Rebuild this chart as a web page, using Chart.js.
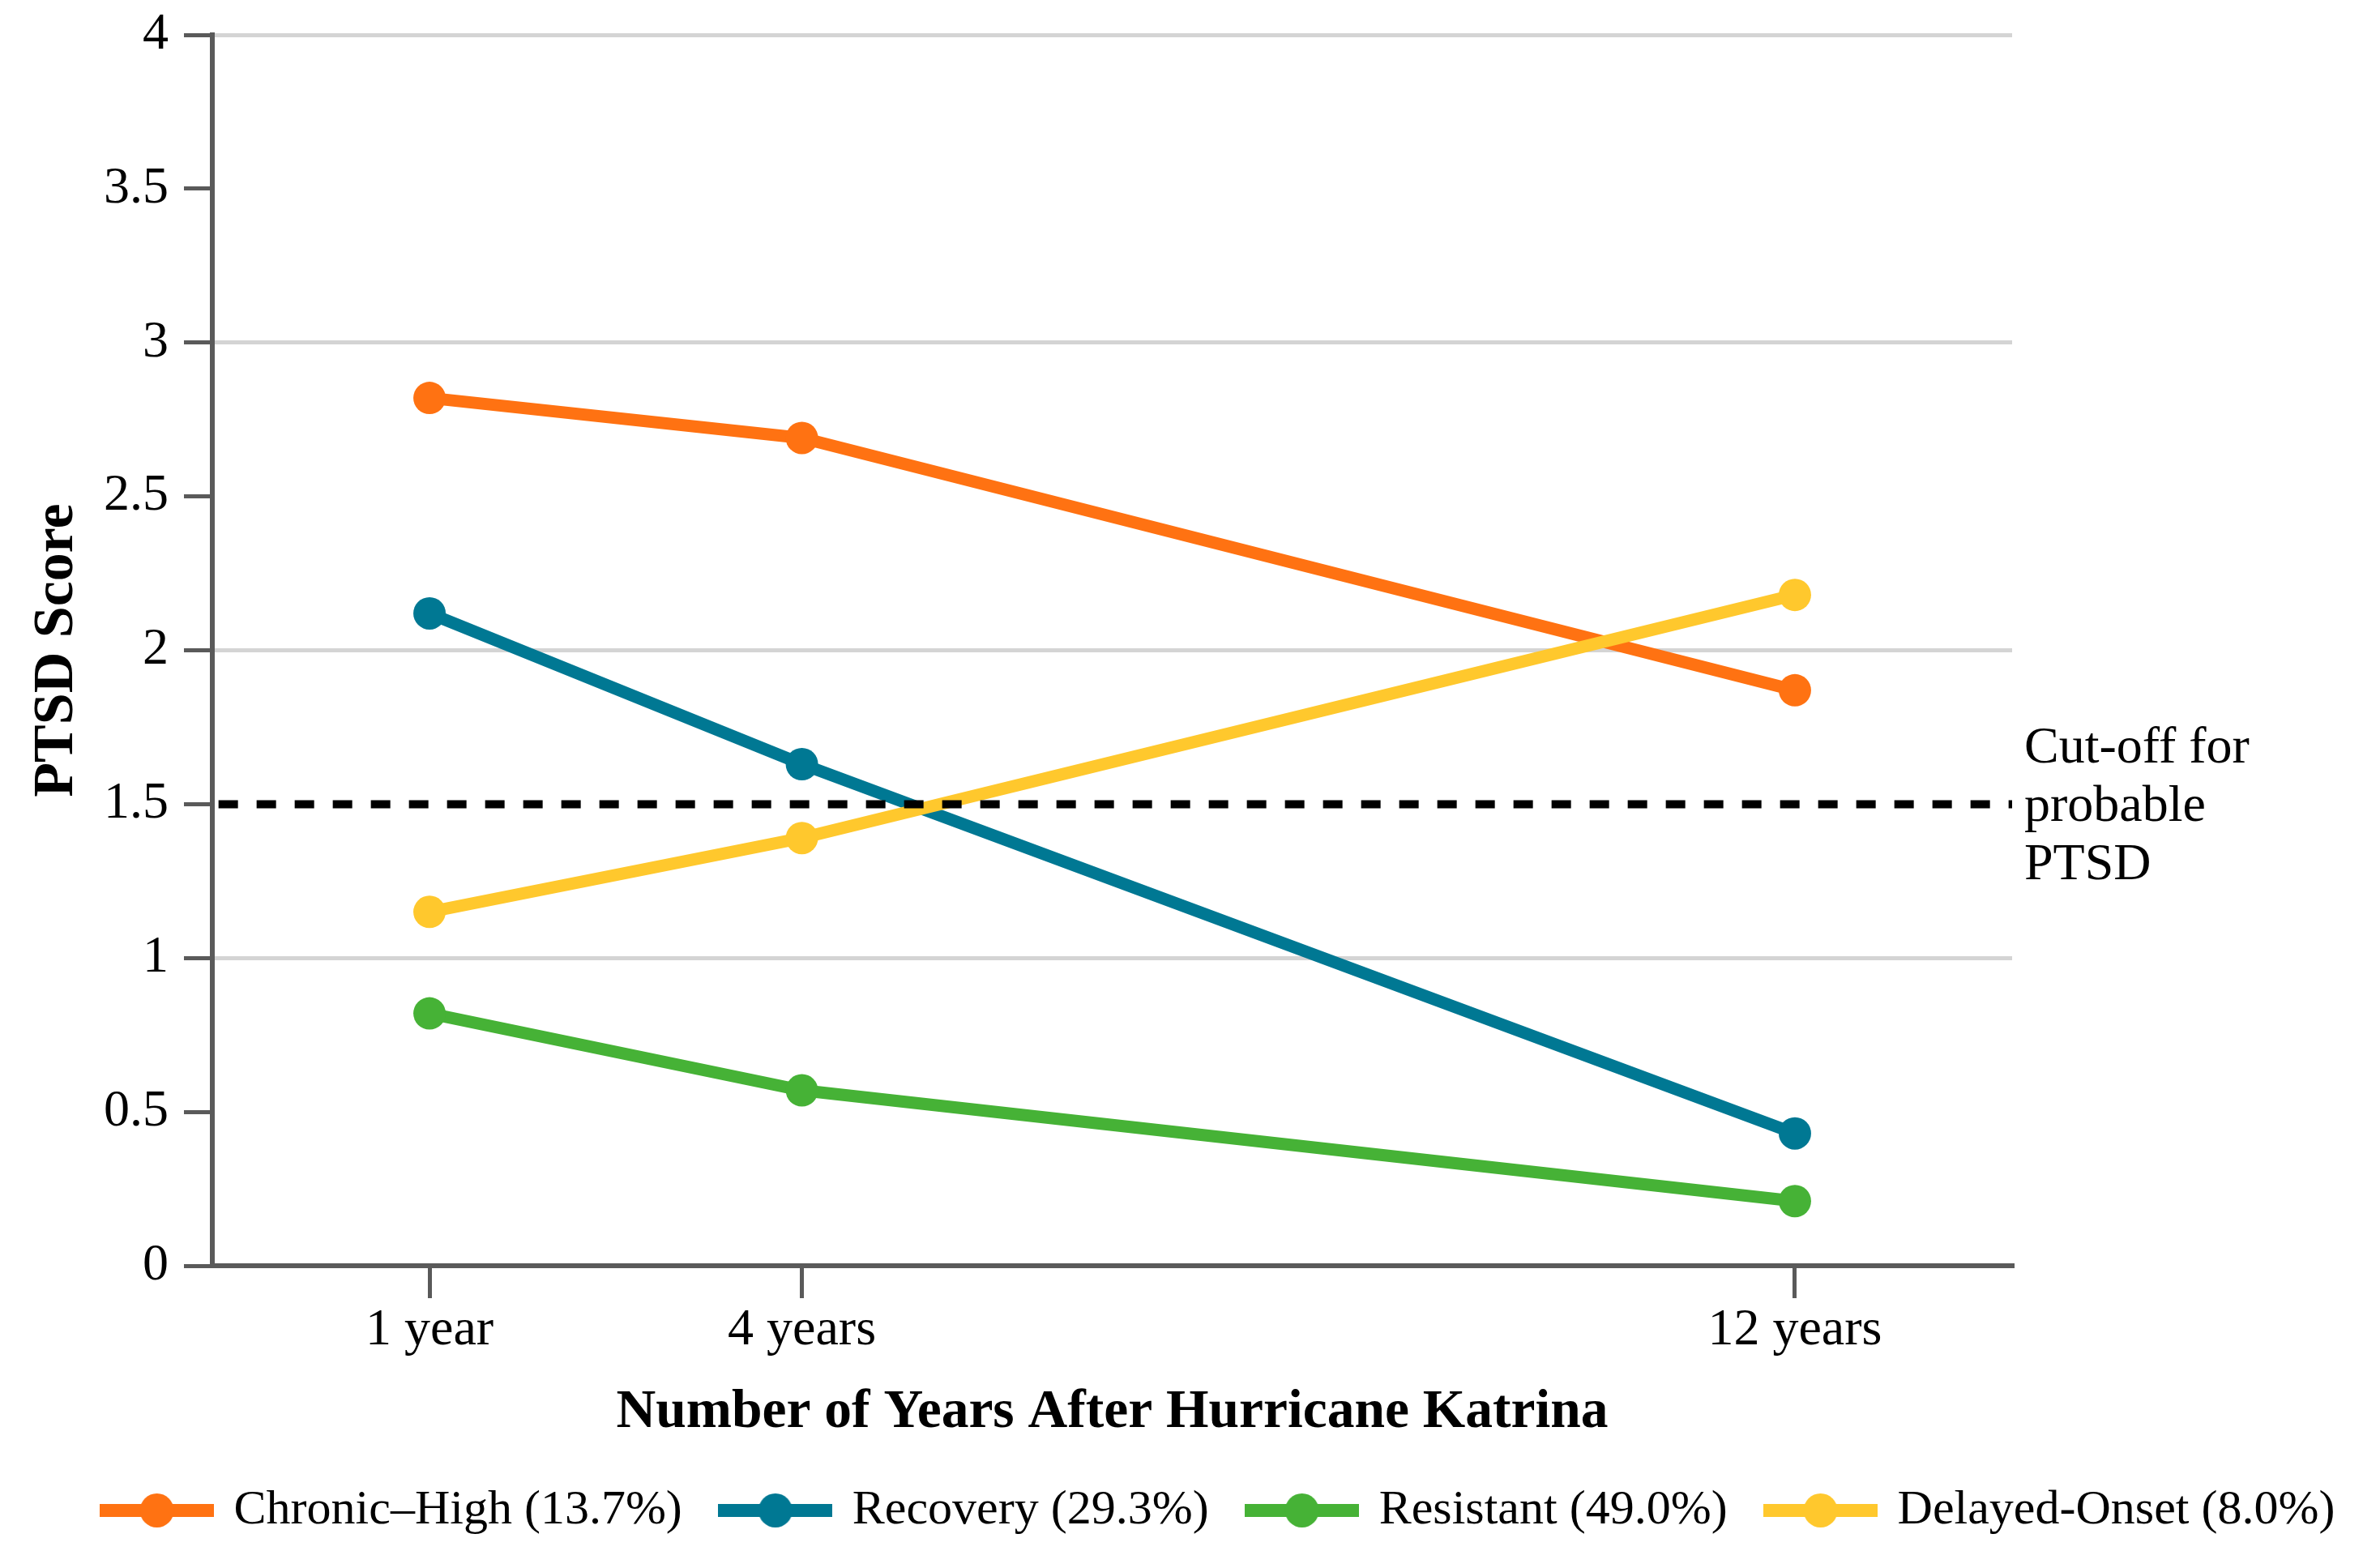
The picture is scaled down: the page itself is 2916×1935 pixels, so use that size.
<!DOCTYPE html>
<html>
<head>
<meta charset="utf-8">
<script src="https://cdn.jsdelivr.net/npm/chart.js@4.4.1/dist/chart.umd.min.js"></script>
<style>
    html, body { margin: 0; padding: 0; background: #FFFFFF; }
    #wrap { width: 2916px; height: 1935px; position: relative; }
</style>
</head>
<body>
<div id="wrap"><canvas id="ptsdChart"></canvas></div>
<script>
// Data
const years = [1, 4, 12];
const yearLabels = ['1 year', '4 years', '12 years'];

const chronicHigh = [2.82, 2.69, 1.87];
const recovery = [2.12, 1.63, 0.43];
const resistant = [0.82, 0.57, 0.21];
const delayedOnset = [1.15, 1.39, 2.18];

const seriesNames = ['Chronic\u2013High (13.7%)', 'Recovery (29.3%)', 'Resistant (49.0%)', 'Delayed-Onset (8.0%)'];
const seriesColors = ['#FF7212', '#007893', '#46B236', '#FFC82D'];

const cutoffValue = 1.5;
const cutoffSpan = [-0.7, 13.75];
const cutoffText = ['Cut-off for', 'probable', 'PTSD'];

const yTicks = [0, 0.5, 1, 1.5, 2, 2.5, 3, 3.5, 4];
const yTickLabels = ['0', '0.5', '1', '1.5', '2', '2.5', '3', '3.5', '4'];

const SERIF = "'Liberation Serif', 'DejaVu Serif', serif";
const AXIS_COLOR = '#5A5A5A';
const GRID_COLOR = '#D4D4D4';

function toPoints(values) {
    return values.map((v, i) => ({ x: years[i], y: v }));
}

// legend marker: thick line with a dot in the middle
function legendMarker(color) {
    const c = document.createElement('canvas');
    c.width = 141;
    c.height = 44;
    const g = c.getContext('2d');
    g.fillStyle = color;
    g.fillRect(0, 22 - 8, 141, 16);
    g.beginPath();
    g.arc(70.5, 22, 21, 0, Math.PI * 2);
    g.fill();
    return c;
}

// text next to the dashed cut-off line
const cutoffLabelPlugin = {
    id: 'cutoffLabel',
    afterLayout(chart) {
        // legend in the original sits a little right of centre
        if (chart.legend) {
            chart.legend.left += 47;
            chart.legend.right += 47;
        }
    },
    afterDraw(chart) {
        const { ctx, chartArea } = chart;
        const y = chart.scales.y.getPixelForValue(cutoffValue);
        ctx.save();
        ctx.font = `64px ${SERIF}`;
        ctx.fillStyle = '#000000';
        ctx.textAlign = 'left';
        ctx.textBaseline = 'middle';
        cutoffText.forEach((line, i) => {
            ctx.fillText(line, chartArea.right + 15, y + 4 + (i - 1) * 72);
        });
        ctx.restore();
    }
};

const seriesData = [chronicHigh, recovery, resistant, delayedOnset];

const datasets = seriesData.map((values, i) => ({
    label: seriesNames[i],
    data: toPoints(values),
    borderColor: seriesColors[i],
    backgroundColor: seriesColors[i],
    borderWidth: 15,
    pointRadius: 20,
    pointHoverRadius: 20,
    pointBorderWidth: 0,
    pointBackgroundColor: seriesColors[i],
    order: 4 - i
}));

datasets.push({
    label: 'cutoff',
    data: cutoffSpan.map(x => ({ x: x, y: cutoffValue })),
    borderColor: '#000000',
    borderWidth: 10,
    borderDash: [24, 23],
    pointRadius: 0,
    order: 0
});

const ctx = document.getElementById('ptsdChart').getContext('2d');
const ptsdChart = new Chart(ctx, {
    type: 'line',
    data: { datasets: datasets },
    plugins: [cutoffLabelPlugin],
    options: {
        responsive: true,
        maintainAspectRatio: false,
        animation: false,
        layout: { padding: { top: 43, bottom: 31, left: 0, right: 0 } },
        plugins: {
            tooltip: { enabled: false },
            legend: {
                position: 'bottom',
                labels: {
                    font: { family: SERIF, size: 60 },
                    color: '#000000',
                    usePointStyle: true,
                    pointStyleWidth: 130,
                    padding: 50,
                    filter: item => item.text !== 'cutoff',
                    generateLabels(chart) {
                        const items = Chart.defaults.plugins.legend.labels.generateLabels(chart);
                        items.sort((a, b) => a.datasetIndex - b.datasetIndex);
                        return items.map(item => {
                            if (item.datasetIndex < seriesColors.length) {
                                item.pointStyle = legendMarker(seriesColors[item.datasetIndex]);
                            }
                            return item;
                        });
                    }
                }
            }
        },
        scales: {
            x: {
                type: 'linear',
                min: -0.75,
                max: 13.75,
                afterBuildTicks: scale => { scale.ticks = years.map(v => ({ value: v })); },
                afterFit: scale => { scale.height = 222; },
                border: { display: true, color: AXIS_COLOR, width: 6 },
                grid: {
                    drawOnChartArea: false,
                    drawTicks: true,
                    tickLength: 40,
                    tickColor: AXIS_COLOR,
                    lineWidth: 5
                },
                ticks: {
                    autoSkip: false,
                    maxRotation: 0,
                    padding: 2,
                    color: '#000000',
                    font: { family: SERIF, size: 64 },
                    callback: value => yearLabels[years.indexOf(value)]
                },
                title: {
                    display: true,
                    text: 'Number of Years After Hurricane Katrina',
                    color: '#000000',
                    font: { family: SERIF, size: 67.5, weight: 'bold' },
                    padding: { top: 0, bottom: 0 }
                }
            },
            y: {
                type: 'linear',
                position: 'left',
                min: 0,
                max: 4,
                afterBuildTicks: scale => { scale.ticks = yTicks.map(v => ({ value: v })); },
                afterFit: scale => { scale.width = 262; },
                border: { display: true, color: AXIS_COLOR, width: 6 },
                grid: {
                    color: c => (c.tick && c.tick.value % 1 === 0 && c.tick.value !== 0) ? GRID_COLOR : 'rgba(0,0,0,0)',
                    tickColor: AXIS_COLOR,
                    tickLength: 35,
                    lineWidth: 5
                },
                ticks: {
                    padding: 19,
                    color: '#000000',
                    font: { family: SERIF, size: 64, lineHeight: 0.6 },
                    callback: value => yTickLabels[yTicks.indexOf(value)]
                },
                title: {
                    display: true,
                    text: 'PTSD Score',
                    color: '#000000',
                    font: { family: SERIF, size: 70, weight: 'bold' },
                    padding: { top: 29, bottom: 0 }
                }
            },
            // empty right axis, only reserves room for the cut-off label
            yRight: {
                type: 'linear',
                position: 'right',
                min: 0,
                max: 4,
                afterFit: scale => { scale.width = 433; },
                border: { display: false },
                grid: { display: false, drawTicks: false },
                ticks: { display: false }
            }
        }
    }
});
</script>
</body>
</html>
